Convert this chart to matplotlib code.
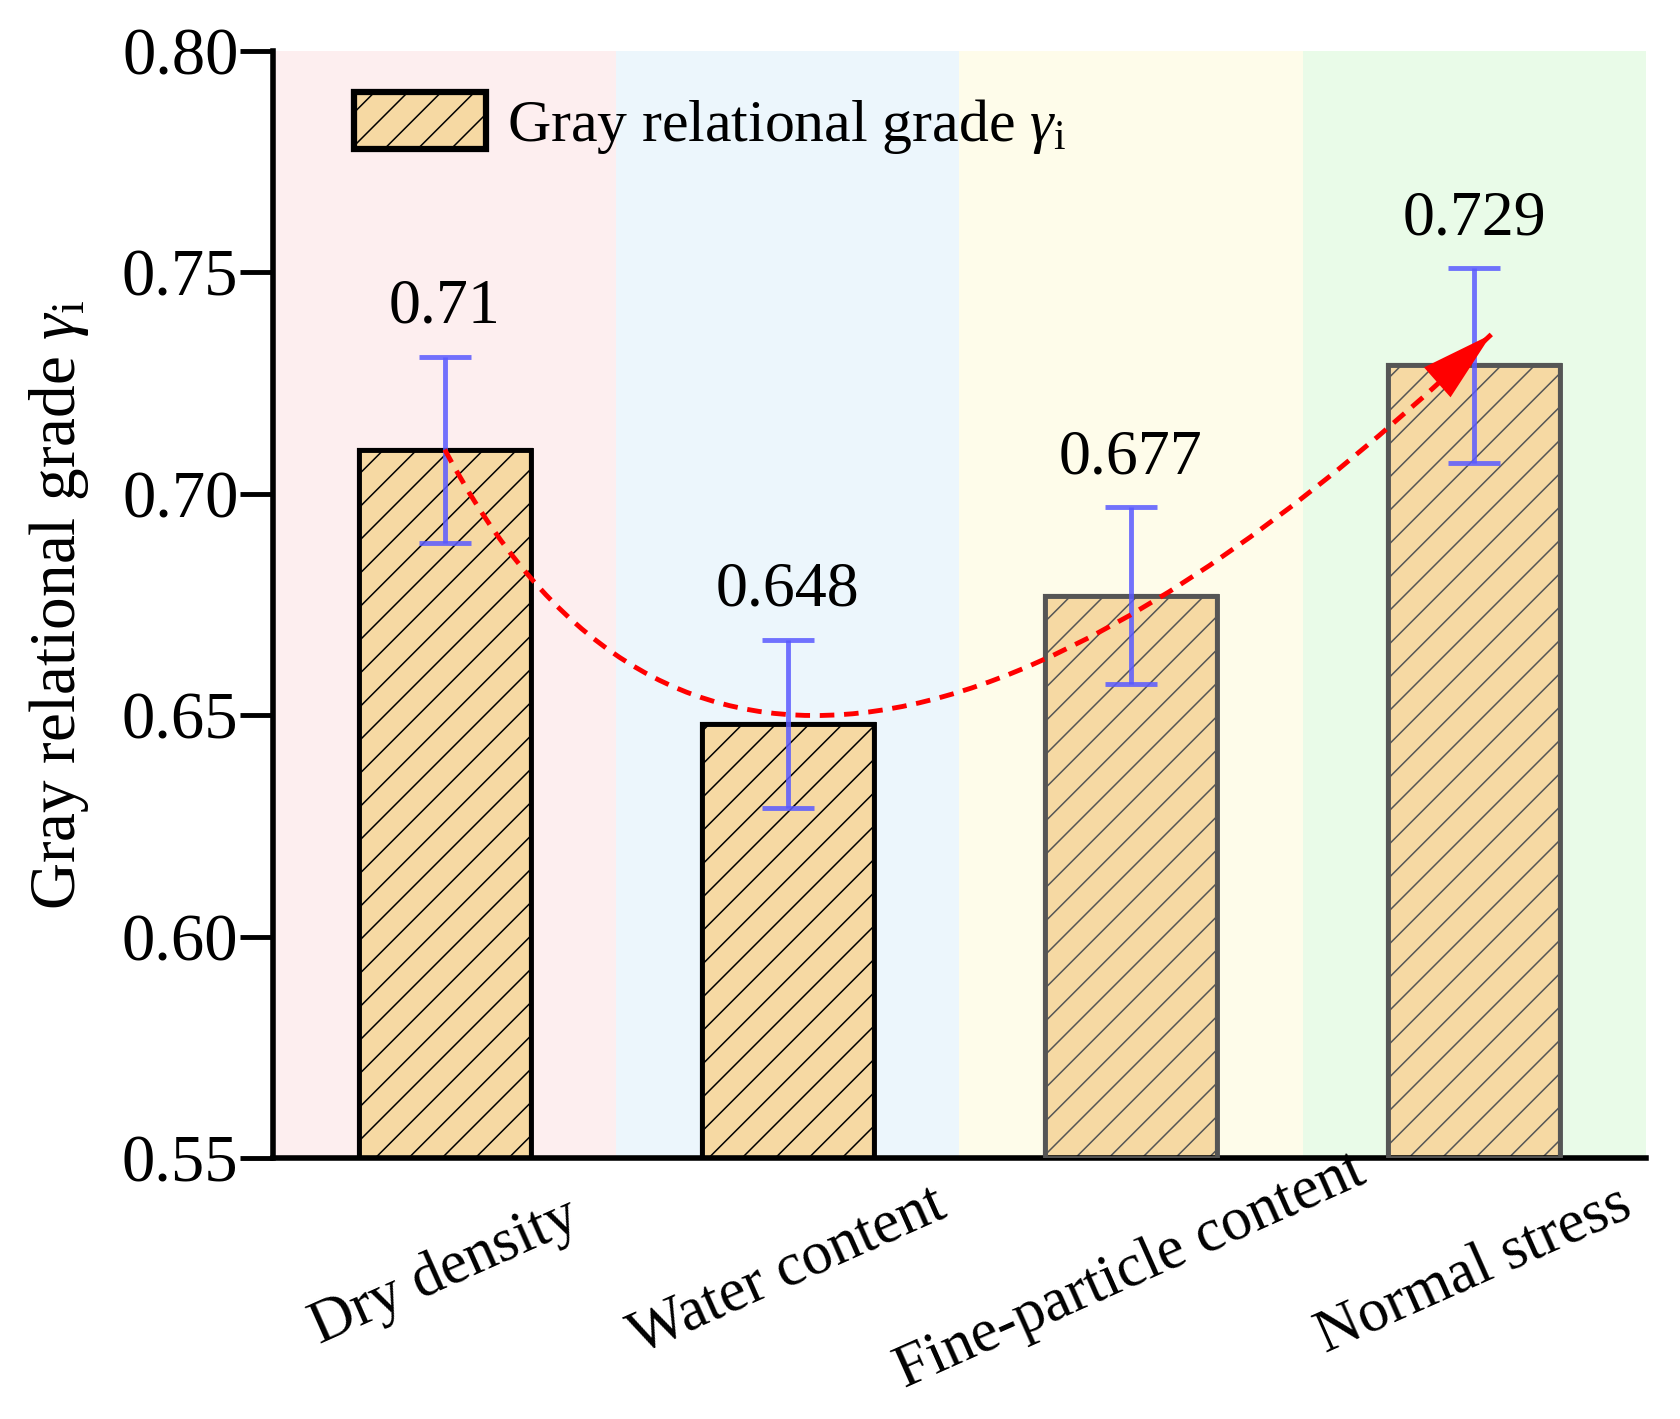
import matplotlib.pyplot as plt
from matplotlib.path import Path
from matplotlib.patches import PathPatch, Patch

plt.rcParams['font.family'] = ['Liberation Serif', 'DejaVu Serif']
plt.rcParams['mathtext.fontset'] = 'custom'
plt.rcParams['mathtext.rm'] = 'Liberation Serif'
plt.rcParams['mathtext.it'] = 'Liberation Serif:italic'
plt.rcParams['hatch.linewidth'] = 1.1
plt.rcParams['hatch.color'] = '#5e5248'

# data
factors = ['Dry density', 'Water content', 'Fine-particle content', 'Normal stress']
grade = [0.710, 0.648, 0.677, 0.729]
grade_err = [0.021, 0.019, 0.020, 0.022]
labels = ['0.71', '0.648', '0.677', '0.729']
bands = ['#fdeeef', '#ecf6fc', '#fefcea', '#e9fbe8']
edges = ['black', 'black', '#555555', '#555555']

fig, ax = plt.subplots(figsize=(16.81, 14.19), dpi=100)
fig.subplots_adjust(left=0.1625, right=0.979, top=0.964, bottom=0.184)

x = list(range(len(factors)))
for i, c in enumerate(bands):
    ax.axvspan(i - 0.5, i + 0.5, color=c, zorder=0, lw=0)

for i in x:
    ax.bar(i, grade[i] - 0.55, bottom=0.55, width=0.5, color='#f6d9a3',
           edgecolor=edges[i], linewidth=3, hatch='/', zorder=2)
    ax.bar(i, grade[i] - 0.55, bottom=0.55, width=0.5, fill=False,
           edgecolor=edges[i], linewidth=3.5, zorder=3)

ax.errorbar(x, grade, yerr=grade_err, fmt='none', ecolor='#5a5aff', alpha=0.85,
            elinewidth=3.5, capsize=19, capthick=3.5, zorder=4)

for i in x:
    ax.text(i, grade[i] + grade_err[i] + 0.0045, labels[i], ha='center', va='bottom',
            fontsize=46, zorder=5)

# red trend curve with arrow
p0, p1, p2 = (0.0, 0.710), (0.9, 0.578), (3.05, 0.736)
curve = Path([p0, p1, p2], [Path.MOVETO, Path.CURVE3, Path.CURVE3])
ax.add_patch(PathPatch(curve, fill=False, edgecolor='red', lw=3.5,
                       linestyle=(0, (3, 2)), zorder=6))
t = 0.9
tail = ((1 - t) ** 2 * p0[0] + 2 * t * (1 - t) * p1[0] + t ** 2 * p2[0],
        (1 - t) ** 2 * p0[1] + 2 * t * (1 - t) * p1[1] + t ** 2 * p2[1])
ax.annotate('', xy=p2, xytext=tail,
            arrowprops=dict(arrowstyle='-|>,head_length=0.65,head_width=0.18',
                            mutation_scale=80, color='red', lw=0,
                            shrinkA=0, shrinkB=0), zorder=7)

ax.set_xlim(-0.5, 3.5)
ax.set_ylim(0.55, 0.80)
ax.set_yticks([0.55, 0.60, 0.65, 0.70, 0.75, 0.80])
ax.set_yticklabels(['0.55', '0.60', '0.65', '0.70', '0.75', '0.80'])
ax.set_xticks(x)
ax.set_xticklabels(factors, rotation=24, ha='center', va='center',
                   rotation_mode='anchor')
ax.tick_params(axis='y', direction='out', length=24, width=3.5, labelsize=48, pad=1)
ax.tick_params(axis='x', direction='in', length=20, width=3.5, labelsize=44, pad=82)
for s in ['top', 'right']:
    ax.spines[s].set_visible(False)
for s in ['left', 'bottom']:
    ax.spines[s].set_linewidth(4)

ax.set_ylabel(r'Gray relational grade $\gamma_{\rm i}$', fontsize=47, labelpad=22)

handle = Patch(facecolor='#f6d9a3', edgecolor='black', linewidth=4.5, hatch='/')
ax.legend([handle], [r'Gray relational grade $\gamma_{\rm i}$'], loc='upper left',
          bbox_to_anchor=(0.02, 1.012), frameon=False, fontsize=43,
          handlelength=2.2, handleheight=1.1, handletextpad=0.35)

plt.savefig('out.png', dpi=100)
